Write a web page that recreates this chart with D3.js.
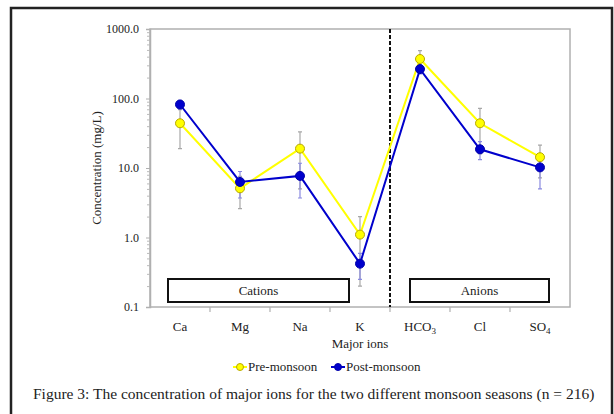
<!DOCTYPE html>
<html>
<head>
<meta charset="utf-8">
<script src="https://cdn.jsdelivr.net/npm/d3@7"></script>
<style>
  body { margin: 0; background: #fff; }
  svg, svg text { font-family: "Liberation Serif", "Times New Roman", serif !important; }
  svg text { fill: #222; }
</style>
</head>
<body>
<div id="chart"></div>
<script>
width = 614;
height = 414;
margins = {left: 150, right: 44, top: 29, bottom: 107};

// data
var ions = ["Ca", "Mg", "Na", "K", "HCO3", "Cl", "SO4"];
var preMean = [44, 5.1, 19, 1.1, 370, 44, 14.3];
var preSD = [25, 2.5, 14, 0.9, 120, 28, 7.1];
var postMean = [82, 6.3, 7.7, 0.42, 265, 18.6, 10.2];
var postSD = [12, 2.6, 4, 0.17, 40, 5.4, 5.2];
var yTicks = [0.1, 1, 10, 100, 1000];
var groups = [{label: "Cations", from: "Ca", to: "K"}, {label: "Anions", from: "HCO3", to: "SO4"}];

var xScale = d3.scaleBand().domain(ions).range([margins.left, width - margins.right]);
var yScale = d3.scaleLog().domain([0.1, 1000]).range([height - margins.bottom, margins.top]);
var bw = xScale.bandwidth();

var svg = d3.select("#chart").append("svg")
    .attr("width", width)
    .attr("height", height);

// outer frame
svg.append("rect")
    .attr("x", 11).attr("y", 8)
    .attr("width", 601).attr("height", 420)
    .attr("fill", "none").attr("stroke", "#222").attr("stroke-width", 2.5);

var x0 = margins.left, x1 = width - margins.right;
var y0 = height - margins.bottom, y1 = margins.top;

// plot frame
svg.append("rect")
    .attr("x", x0).attr("y", y1)
    .attr("width", x1 - x0).attr("height", y0 - y1)
    .attr("fill", "none").attr("stroke", "#b0b0b0").attr("stroke-width", 1.5);

// y axis
var minor = [];
for (var e = -1; e < 3; e++) {
    for (var m = 2; m <= 9; m++) minor.push(m * Math.pow(10, e));
}
svg.append("g")
    .attr("transform", "translate(" + x0 + ",0)")
    .call(d3.axisLeft(yScale).tickValues(minor).tickSize(3).tickFormat(""))
    .call(g => g.select(".domain").remove())
    .selectAll("line").attr("stroke", "#bbb");

svg.append("g")
    .attr("transform", "translate(" + x0 + ",0)")
    .call(d3.axisLeft(yScale).tickValues(yTicks).tickSize(4).tickPadding(7).tickFormat(d3.format(".1f")))
    .call(g => g.select(".domain").attr("stroke", "#b0b0b0").attr("stroke-width", 1.5))
    .call(g => g.selectAll("line").attr("stroke", "#b0b0b0"))
    .selectAll("text")
    .style("font-size", "12px");

// x axis: tick marks at band boundaries, labels centred
svg.selectAll(".xtick")
    .data(ions.slice(1))
    .enter()
    .append("line")
    .attr("x1", d => xScale(d)).attr("x2", d => xScale(d))
    .attr("y1", y0).attr("y2", y0 + 5)
    .attr("stroke", "#b0b0b0").attr("stroke-width", 1.2);

svg.selectAll(".xlabel")
    .data(ions)
    .enter()
    .append("text")
    .attr("x", d => xScale(d) + bw / 2)
    .attr("y", y0 + 24)
    .attr("text-anchor", "middle")
    .style("font-size", "13px")
    .each(function(d) {
        var t = d3.select(this);
        var mm = d.match(/^([A-Za-z]+?)(\d+)$/);
        if (mm) {
            t.append("tspan").text(mm[1]);
            t.append("tspan").attr("dy", 3).style("font-size", "9px").text(mm[2]);
        } else {
            t.text(d);
        }
    });

svg.append("text")
    .attr("x", (x0 + x1) / 2).attr("y", y0 + 41)
    .attr("text-anchor", "middle")
    .style("font-size", "13px")
    .text("Major ions");

svg.append("text")
    .attr("transform", "translate(101," + ((y0 + y1) / 2) + ") rotate(-90)")
    .attr("text-anchor", "middle")
    .style("font-size", "13px")
    .text("Concentration (mg/L)");

// group boxes
groups.forEach(function(g, i) {
    var bx0 = xScale(g.from) + (i == 0 ? 18 : 20);
    var bx1 = xScale(g.to) + (i == 0 ? 19 : 39);
    svg.append("rect")
        .attr("x", bx0).attr("y", 279)
        .attr("width", bx1 - bx0).attr("height", 23)
        .attr("fill", "#fff").attr("stroke", "#111").attr("stroke-width", 2);
    svg.append("text")
        .attr("x", (bx0 + bx1) / 2).attr("y", 295)
        .attr("text-anchor", "middle")
        .style("font-size", "13px")
        .text(g.label);
});

// divider between cations and anions
svg.append("line")
    .attr("x1", xScale("HCO3")).attr("x2", xScale("HCO3"))
    .attr("y1", y1).attr("y2", y0)
    .attr("stroke", "#111").attr("stroke-width", 2)
    .attr("stroke-dasharray", "4,2");

var cx = d => xScale(d) + bw / 2;

function drawErrors(means, sds, errColor) {
    var rows = ions.map((d, i) => ({ion: d, v: means[i], sd: sds[i]}));
    svg.append("g").selectAll("path")
        .data(rows)
        .enter()
        .append("path")
        .attr("d", function(d) {
            var lo = yScale(Math.max(d.v - d.sd, 0.1)), hi = yScale(d.v + d.sd), x = cx(d.ion);
            return "M" + x + "," + lo + "V" + hi + "M" + (x - 2) + "," + lo + "H" + (x + 2) + "M" + (x - 2) + "," + hi + "H" + (x + 2);
        })
        .attr("stroke", errColor).attr("stroke-width", 1.2).attr("fill", "none");
    return rows;
}

function drawLine(rows, color, stroke) {
    var g = svg.append("g");
    g.append("path")
        .datum(rows)
        .attr("d", d3.line().x(d => cx(d.ion)).y(d => yScale(d.v)))
        .attr("fill", "none").attr("stroke", color).attr("stroke-width", 2);
    g.selectAll("circle")
        .data(rows)
        .enter()
        .append("circle")
        .attr("cx", d => cx(d.ion)).attr("cy", d => yScale(d.v))
        .attr("r", 4.5)
        .attr("fill", color).attr("stroke", stroke).attr("stroke-width", 1);
}

var preRows = drawErrors(preMean, preSD, "#a8a8a8");
var postRows = drawErrors(postMean, postSD, "#8a8ae0");
drawLine(preRows, "#ffff00", "#b8a800");
drawLine(postRows, "#0000cc", "#0000aa");

// legend
var legend = [{label: "Pre-monsoon", color: "#ffff00", stroke: "#b8a800", x: 233},
              {label: "Post-monsoon", color: "#0000cc", stroke: "#0000aa", x: 331}];
legend.forEach(function(l) {
    svg.append("line")
        .attr("x1", l.x).attr("x2", l.x + 14)
        .attr("y1", 367).attr("y2", 367)
        .attr("stroke", l.color).attr("stroke-width", 2);
    svg.append("circle")
        .attr("cx", l.x + 7).attr("cy", 367).attr("r", 3.5)
        .attr("fill", l.color).attr("stroke", l.stroke);
    svg.append("text")
        .attr("x", l.x + 15).attr("y", 371)
        .style("font-size", "13px")
        .text(l.label);
});

svg.append("text")
    .attr("x", 33).attr("y", 399)
    .style("font-size", "15.5px")
    .text("Figure 3: The concentration of major ions for the two different monsoon seasons (n = 216)");
</script>
</body>
</html>
